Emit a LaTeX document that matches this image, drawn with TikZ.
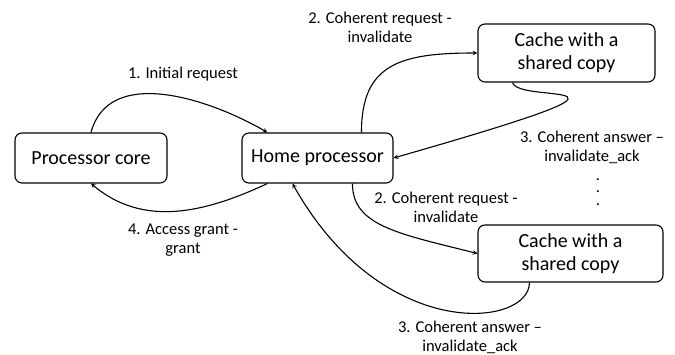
\documentclass[tikz,border=0pt]{standalone}
\usepackage{fontspec}
\setmainfont{Carlito}
\usetikzlibrary{positioning}

\tikzset{
  unit/.style={draw, rounded corners=7pt, line width=1.1pt, align=center,
    font=\fontsize{20}{23}\selectfont},
  msg/.style={align=center, font=\fontsize{16.5}{19}\selectfont},
}

\begin{document}
\begin{tikzpicture}[x=1pt, y=1pt, >=stealth, line width=1.1pt]
    \useasboundingbox (0,0) rectangle (675,355);

    % Blocos
    \node[unit, minimum width=152, minimum height=50] (core) at (91,197) {Processor core};
    \node[unit, minimum width=151, minimum height=50] (home) at (317.5,197) {Home processor};
    \node[unit, minimum width=177, minimum height=58] (cacheA) at (566.5,302) {Cache with a\\shared copy};
    \node[unit, minimum width=185, minimum height=57] (cacheB) at (570.5,101.5) {Cache with a\\shared copy};

    % Mensagens
    \node[msg] (initreq) at (183,281) {1. Initial request};
    \node[msg] (cohreqA) at (380,328) {2. Coherent request -\\invalidate};
    \node[msg] (cohansA) at (592,208) {3. Coherent answer --\\invalidate\_ack};
    \node[msg] (cohreqB) at (446,148) {2. Coherent request -\\invalidate};
    \node[msg] (cohansB) at (470,18) {3. Coherent answer --\\invalidate\_ack};
    \node[msg] (grant) at (183,115) {4. Access grant -\\grant};
    \foreach \i in {1,2,3}
      \node[msg, inner sep=0pt] (dot\i) at (598,188-12.5*\i) {.};

    % Setas
    \draw[->] (core.north) to[out=75, in=150] ([xshift=26]home.north west);
    \draw[->] ([xshift=120]home.north west) .. controls +(0,68) and +(-78,0) .. (cacheA.west);
    \draw[->] ([xshift=35]cacheA.south west) .. controls +(7,-23) and +(297,85) .. (home.east);
    \draw[->] ([xshift=26]home.south west) to[out=-155, in=-40] (core.south);
    \draw[->] ([xshift=111]home.south west) .. controls +(0,-42) and +(-80,20) .. (cacheB.west);
    \draw[->] ([xshift=52]cacheB.south west) .. controls +(0,-45) and +(90,-160) .. ([xshift=51]home.south west);
\end{tikzpicture}
\end{document}
